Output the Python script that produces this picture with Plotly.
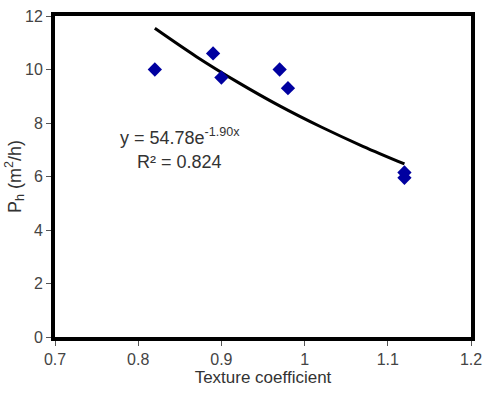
import plotly.graph_objects as go

# Data
tex_coef = [0.82, 0.89, 0.90, 0.97, 0.98, 1.12, 1.12]
ph_vals = [10.0, 10.6, 9.7, 10.0, 9.3, 6.15, 5.95]

# Trend line points
trend_x = [0.82, 0.87, 0.92, 0.97, 1.02, 1.07, 1.12]
trend_y = [11.54, 10.48, 9.52, 8.64, 7.85, 7.13, 6.47]

x_ticks = [0.7, 0.8, 0.9, 1.0, 1.1, 1.2]
x_labels = ["0.7", "0.8", "0.9", "1", "1.1", "1.2"]
y_ticks = [0, 2, 4, 6, 8, 10, 12]

FONT = "Liberation Sans, Arial, sans-serif"
GREY = "#444444"

fig = go.Figure()
fig.add_trace(go.Scatter(
    x=trend_x, y=trend_y, mode="lines", line=dict(color="black", width=3, shape="spline"),
    showlegend=False, hoverinfo="skip"))
fig.add_trace(go.Scatter(
    x=tex_coef, y=ph_vals, mode="markers",
    marker=dict(symbol="diamond", size=11, color="#0000A0", line=dict(width=0)),
    showlegend=False))

fig.add_annotation(x=0.85, y=7.5, xref="x", yref="y", showarrow=False,
                   text="y = 54.78e<sup>-1.90x</sup>", font=dict(family=FONT, size=18, color="#333333"))
fig.add_annotation(x=0.85, y=6.55, xref="x", yref="y", showarrow=False,
                   text="R² = 0.824", font=dict(family=FONT, size=18, color="#333333"))

fig.update_layout(
    width=484, height=393,
    margin=dict(l=55, r=13, t=16, b=56, autoexpand=False),
    paper_bgcolor="white", plot_bgcolor="white",
    font=dict(family=FONT, size=16, color=GREY),
    xaxis=dict(range=[0.7, 1.2], tickvals=x_ticks, ticktext=x_labels,
               showline=True, linecolor="black", linewidth=4, mirror=True,
               ticks="outside", ticklen=5, tickcolor="#555555", tickwidth=1,
               showgrid=False, zeroline=False, automargin=False,
               title=dict(text="Texture coefficient", font=dict(size=17, color="#333333"), standoff=3)),
    yaxis=dict(range=[0, 12], tickvals=y_ticks,
               showline=True, linecolor="black", linewidth=4, mirror=True,
               ticks="outside", ticklen=5, tickcolor="#555555", tickwidth=1,
               showgrid=False, zeroline=False, automargin=False,
               title=dict(text="P<sub>h</sub> (m<sup>2</sup>/h)", font=dict(size=18, color="#333333"), standoff=0)),
)

fig.write_html("out.html")
